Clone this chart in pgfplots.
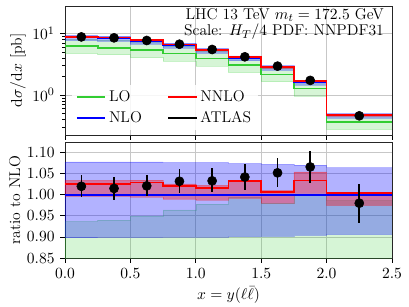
\documentclass[border=0pt]{standalone}
\usepackage{pgfplots}
\pgfplotsset{compat=1.18}
\usepackage{pgfplotstable}
\usepgfplotslibrary{fillbetween}
\definecolor{cLO}{RGB}{50,205,50}
\definecolor{cNLO}{RGB}{0,0,255}
\definecolor{cNNLO}{RGB}{255,0,0}

\pgfplotstableread{
x nlo nlohi nlolo nnlo nnlohi nnlolo lo lohi lolo
0.00 8.63 9.30 7.75 8.85 8.92 8.60 6.21 8.08 4.75
0.25 8.37 9.02 7.52 8.59 8.65 8.34 5.86 7.87 4.52
0.50 7.54 8.13 6.78 7.76 7.80 7.50 5.35 7.16 4.07
0.75 6.49 6.98 5.84 6.62 6.66 6.43 4.74 6.26 3.57
1.00 5.32 5.72 4.79 5.41 5.44 5.26 3.94 5.20 2.98
1.25 4.01 4.31 3.61 4.14 4.15 3.98 3.05 3.99 2.33
1.50 2.80 3.00 2.53 2.82 2.83 2.74 2.16 2.74 1.65
1.75 1.62 1.733 1.464 1.675 1.707 1.626 1.28 1.62 0.97
2.00 0.469 0.499 0.425 0.471 0.472 0.457 0.361 0.462 0.277
2.50 0.469 0.499 0.425 0.471 0.472 0.457 0.361 0.462 0.277
}\topdata

\pgfplotstableread{
x nlo nlohi nlolo nnlo nnlohi nnlolo lo lohi lolo
0.00 1 1.078 0.898 1.026 1.034 0.996 0.72 0.936 0.55
0.25 1 1.078 0.899 1.026 1.034 0.996 0.70 0.940 0.54
0.50 1 1.078 0.899 1.029 1.035 0.995 0.71 0.950 0.54
0.75 1 1.076 0.900 1.020 1.026 0.990 0.73 0.964 0.55
1.00 1 1.076 0.900 1.016 1.022 0.988 0.74 0.978 0.56
1.25 1 1.074 0.901 1.032 1.034 0.992 0.76 0.994 0.58
1.50 1 1.072 0.902 1.006 1.010 0.980 0.77 0.980 0.59
1.75 1 1.070 0.904 1.034 1.054 1.004 0.79 1.002 0.60
2.00 1 1.064 0.906 1.004 1.006 0.975 0.77 0.986 0.59
2.50 1 1.064 0.906 1.004 1.006 0.975 0.77 0.986 0.59
}\ratiodata

\pgfplotstableread{
x y r ep em
0.125 8.80 1.020 0.026 0.026
0.375 8.50 1.015 0.027 0.027
0.625 7.70 1.021 0.026 0.025
0.875 6.70 1.032 0.028 0.028
1.125 5.50 1.033 0.031 0.027
1.375 4.18 1.042 0.030 0.030
1.625 2.95 1.052 0.034 0.034
1.875 1.73 1.066 0.038 0.038
2.25 0.460 0.980 0.046 0.046
}\expdata

\pgfplotsset{
  myax/.style={
    scale only axis, width=230.4pt,
    xmin=0, xmax=2.5,
    xtick={0,0.5,1,1.5,2,2.5},
    grid=major,
    major grid style={black!22, line width=0.5pt},
    tick align=outside, tick pos=left,
    axis line style={line width=0.6pt, black!85},
    major tick length=3.5pt, minor tick length=2pt,
    every tick/.style={black, line width=0.5pt},
    every tick label/.append style={font=\fontsize{11}{13}\selectfont},
    label style={font=\fontsize{11}{13}\selectfont},
    ylabel shift=-3pt,
  },
  band/.style={fill=#1, draw=#1, draw opacity=0.25, line width=0.4pt},
}

\begin{document}
\fontsize{11}{13}\selectfont
\begin{tikzpicture}

% ---------- top panel ----------
\begin{axis}[myax,
  at={(45.8pt,121.2pt)}, anchor=south west,
  height=90.9pt,
  ymode=log, ymin=0.225, ymax=28,
  xticklabels={},
  ylabel={$\mathrm{d}\sigma/\mathrm{d}x$ [pb]},
  legend columns=2,
  legend cell align=left,
  legend style={at={(0.02,0.035)}, anchor=south west, draw=none, fill=white,
     fill opacity=0.85, text opacity=1, font=\fontsize{11}{13}\selectfont,
     /tikz/every even column/.append style={column sep=16pt},
     row sep=1pt},
  legend image code/.code={\draw[#1, line width=1.2pt] (0pt,0pt) -- (20pt,0pt);},
]
\addplot[const plot, draw=none, name path=lohi, forget plot] table[x=x,y=lohi]{\topdata};
\addplot[const plot, draw=none, name path=lolo, forget plot] table[x=x,y=lolo]{\topdata};
\addplot[band=cLO, fill opacity=0.2, forget plot] fill between[of=lohi and lolo];
\addplot[const plot, draw=none, name path=nlohi, forget plot] table[x=x,y=nlohi]{\topdata};
\addplot[const plot, draw=none, name path=nlolo, forget plot] table[x=x,y=nlolo]{\topdata};
\addplot[band=cNLO, fill opacity=0.3, forget plot] fill between[of=nlohi and nlolo];
\addplot[const plot, draw=none, name path=nnlohi, forget plot] table[x=x,y=nnlohi]{\topdata};
\addplot[const plot, draw=none, name path=nnlolo, forget plot] table[x=x,y=nnlolo]{\topdata};
\addplot[band=cNNLO, fill opacity=0.35, forget plot] fill between[of=nnlohi and nnlolo];
\addplot[const plot, cLO, line width=1.2pt, forget plot] table[x=x,y=lo]{\topdata};
\addplot[const plot, cNLO, line width=1.2pt, forget plot] table[x=x,y=nlo]{\topdata};
\addplot[const plot, cNNLO, line width=1.2pt, forget plot] table[x=x,y=nnlo]{\topdata};
\addplot[only marks, mark=*, mark size=3.2pt, black, forget plot] table[x=x,y=y]{\expdata};
\addlegendimage{cLO}\addlegendentry{LO}
\addlegendimage{cNNLO}\addlegendentry{NNLO}
\addlegendimage{cNLO}\addlegendentry{NLO}
\addlegendimage{black}\addlegendentry{ATLAS}
\node[anchor=north east, inner sep=0pt, align=right, font=\fontsize{11}{11.8}\selectfont]
  at (rel axis cs:0.976,0.985) {LHC 13 TeV $m_t = 172.5$ GeV\\Scale: $H_T/4$ PDF: NNPDF31};
\end{axis}

% ---------- ratio panel ----------
\begin{axis}[myax,
  at={(45.8pt,34.5pt)}, anchor=south west,
  height=81.7pt,
  ymin=0.85, ymax=1.125,
  ytick={0.85,0.90,0.95,1.00,1.05,1.10},
  yticklabel style={/pgf/number format/.cd, fixed, fixed zerofill, precision=2},
  xticklabel style={/pgf/number format/.cd, fixed, fixed zerofill, precision=1},
  xlabel={$x = y(\ell\bar{\ell})$},
  xlabel shift=-1.5pt,
  ylabel={ratio to NLO},
]
\addplot[const plot, draw=none, name path=rlohi] table[x=x,y=lohi]{\ratiodata};
\addplot[const plot, draw=none, name path=rlolo] table[x=x,y=lolo]{\ratiodata};
\addplot[band=cLO, fill opacity=0.2] fill between[of=rlohi and rlolo];
\addplot[const plot, draw=none, name path=rnlohi] table[x=x,y=nlohi]{\ratiodata};
\addplot[const plot, draw=none, name path=rnlolo] table[x=x,y=nlolo]{\ratiodata};
\addplot[band=cNLO, fill opacity=0.3] fill between[of=rnlohi and rnlolo];
\addplot[const plot, draw=none, name path=rnnlohi] table[x=x,y=nnlohi]{\ratiodata};
\addplot[const plot, draw=none, name path=rnnlolo] table[x=x,y=nnlolo]{\ratiodata};
\addplot[band=cNNLO, fill opacity=0.35] fill between[of=rnnlohi and rnnlolo];
\addplot[const plot, cLO, line width=1.2pt] table[x=x,y=lo]{\ratiodata};
\addplot[const plot, cNLO, line width=1.2pt] table[x=x,y=nlo]{\ratiodata};
\addplot[const plot, cNNLO, line width=1.2pt] table[x=x,y=nnlo]{\ratiodata};
\addplot[only marks, mark=*, mark size=3.2pt, black,
  error bars/.cd, y dir=both, y explicit, error mark=none,
  error bar style={line width=1.1pt, black}]
  table[x=x, y=r, y error plus=ep, y error minus=em]{\expdata};
\end{axis}
\pgfresetboundingbox
\useasboundingbox (0pt,0pt) rectangle (288.2pt,216.3pt);
\end{tikzpicture}
\end{document}
